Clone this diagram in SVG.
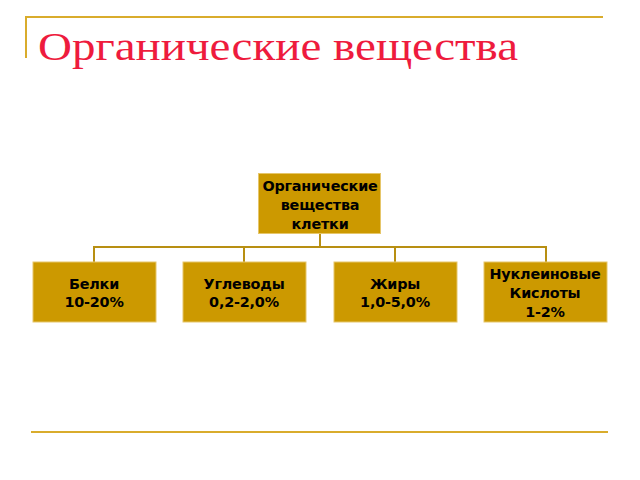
<svg xmlns="http://www.w3.org/2000/svg" width="640" height="480" viewBox="0 0 640 480">
<style>
.box{fill:#cc9900;stroke:#e6c66a;stroke-width:1}
.t{font-family:"DejaVu Sans",Verdana,sans-serif;font-weight:bold;font-size:14.4px;fill:#000;text-anchor:middle;letter-spacing:-0.2px}
.deco{stroke:#d9ac2c;stroke-width:2;fill:none}
.conn{stroke:#b88f12;stroke-width:2;fill:none}
</style>
<rect width="640" height="480" fill="#fff"/>
<path class="deco" d="M26,58 V17 H603"/>
<line class="deco" x1="31" y1="432" x2="608" y2="432"/>
<text x="38" y="60" font-family="Liberation Serif,serif" font-size="41" fill="#ee1b3d" textLength="480" lengthAdjust="spacingAndGlyphs">Органические вещества</text>
<g id="connectors">
<path class="conn" d="M320,233 V247 M94,262 V247 H546 V262 M244,247 V262 M395,247 V262"/>
</g>
<g id="root">
<rect class="box" x="258.5" y="173.5" width="122" height="60"/>
<text class="t" x="320" y="190.5">Органические</text>
<text class="t" x="320" y="209.5">вещества</text>
<text class="t" x="320" y="228.5">клетки</text>
</g>
<g id="belki">
<rect class="box" x="33" y="262" width="123" height="60"/>
<text class="t" x="94" y="288.5">Белки</text>
<text class="t" x="94" y="307">10-20%</text>
</g>
<g id="uglevody">
<rect class="box" x="183" y="262" width="123" height="60"/>
<text class="t" x="244" y="288.5">Углеводы</text>
<text class="t" x="244" y="307">0,2-2,0%</text>
</g>
<g id="zhiry">
<rect class="box" x="334" y="262" width="123" height="60"/>
<text class="t" x="395" y="288.5">Жиры</text>
<text class="t" x="395" y="307">1,0-5,0%</text>
</g>
<g id="nukleinovye">
<rect class="box" x="484" y="262" width="123" height="60"/>
<text class="t" x="545" y="279">Нуклеиновые</text>
<text class="t" x="545" y="298">Кислоты</text>
<text class="t" x="545" y="316.5">1-2%</text>
</g>
</svg>
